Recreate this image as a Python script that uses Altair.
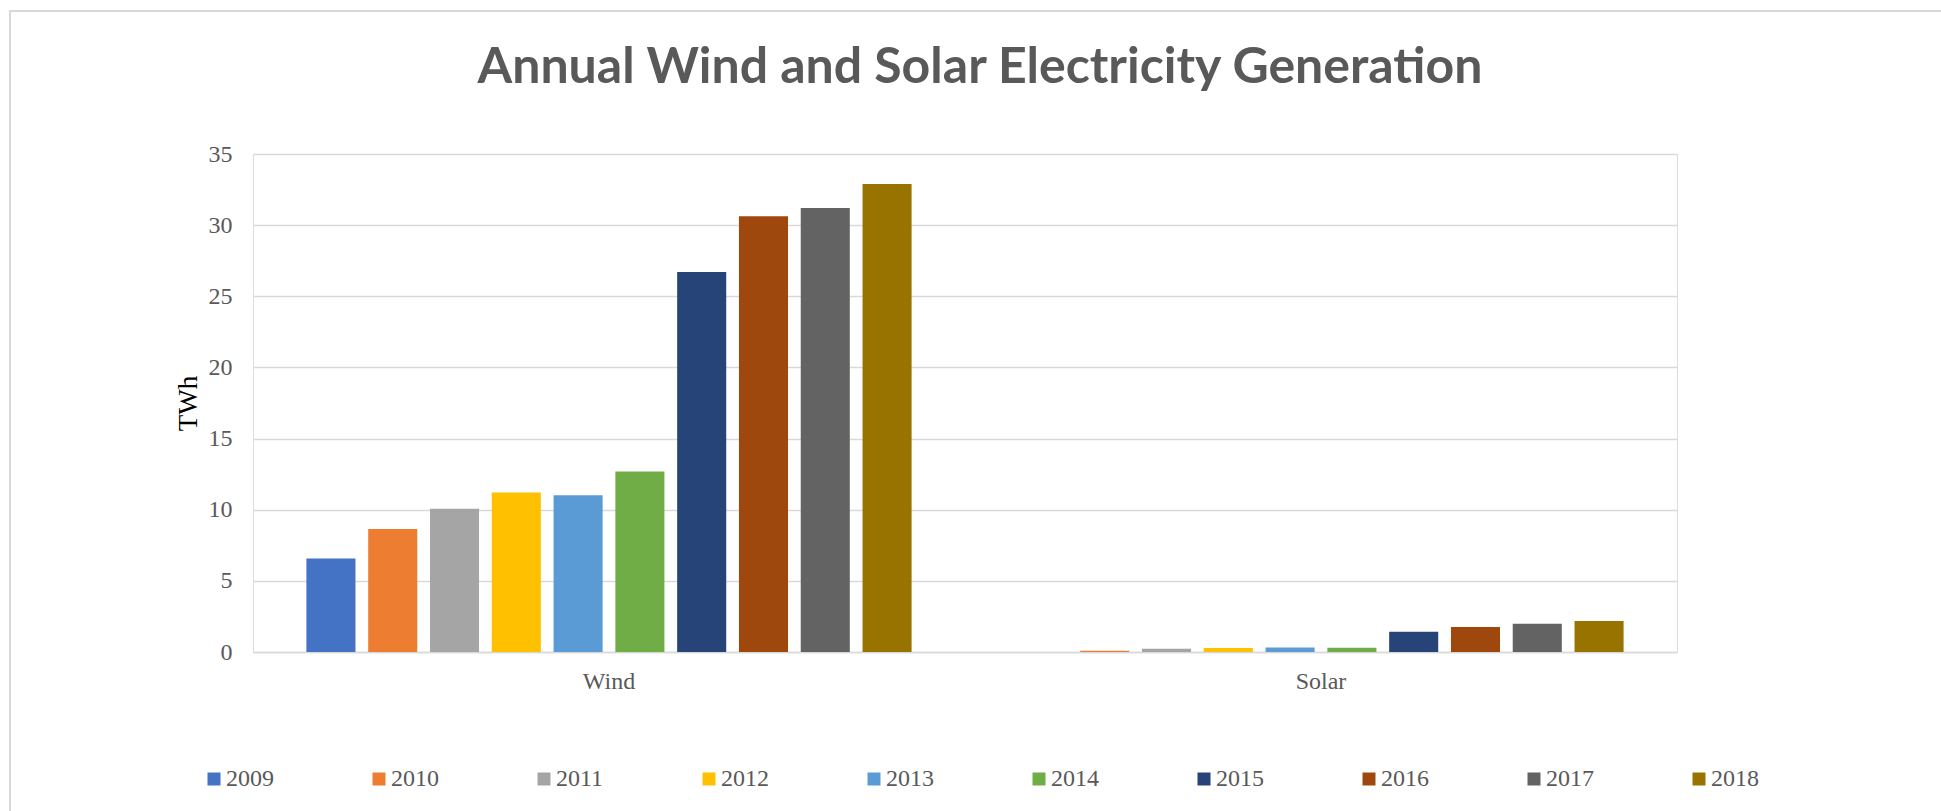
import altair as alt
import pandas as pd

# Annual generation by source, TWh
years = ["2009", "2010", "2011", "2012", "2013", "2014", "2015", "2016", "2017", "2018"]
sources = ["Wind", "Solar"]
wind = [6.57, 8.64, 10.06, 11.21, 11.02, 12.68, 26.71, 30.62, 31.2, 32.89]
solar = [0.0, 0.09, 0.23, 0.28, 0.31, 0.30, 1.42, 1.76, 1.99, 2.18]
palette = ["#4472C4", "#ED7D31", "#A5A5A5", "#FFC000", "#5B9BD5",
           "#70AD47", "#264478", "#9E480E", "#636363", "#997300"]
y_ticks = [0, 5, 10, 15, 20, 25, 30, 35]

rows = []
for src, vals in zip(sources, [wind, solar]):
    for yr, v in zip(years, vals):
        rows.append({"Source": src, "Year": yr, "TWh": v})
df = pd.DataFrame(rows)

W, H = 1424, 498
PAD = {"left": 253, "top": 154, "right": 264, "bottom": 159}
LABEL_FONT = "Liberation Serif"
GREY = "#595959"
GRID = "#d9d9d9"

bars = alt.Chart(df).mark_bar().encode(
    x=alt.X("Source:N", sort=sources,
            scale=alt.Scale(paddingInner=0.15, paddingOuter=0.075),
            axis=alt.Axis(title=None, labelAngle=0, ticks=False,
                          domainColor=GRID, domainWidth=1.5,
                          labelFont=LABEL_FONT, labelFontSize=24,
                          labelColor=GREY, labelPadding=17)),
    xOffset=alt.XOffset("Year:N", sort=years,
                        scale=alt.Scale(paddingInner=0.206, paddingOuter=0)),
    y=alt.Y("TWh:Q",
            scale=alt.Scale(domain=[0, 35], nice=False),
            axis=alt.Axis(title="TWh", values=y_ticks, domain=False, ticks=False,
                          grid=True, gridColor=GRID, gridWidth=1.5,
                          labelFont=LABEL_FONT, labelFontSize=24,
                          labelColor=GREY, labelPadding=21,
                          titleFont=LABEL_FONT, titleFontSize=27,
                          titleFontWeight="normal", titleColor="black",
                          titleAngle=-90, titleBaseline="alphabetic",
                          titleAlign="center", titleX=-57, titleY=H / 2)),
    color=alt.Color("Year:N", sort=years,
                    scale=alt.Scale(domain=years, range=palette),
                    legend=alt.Legend(orient="none", legendX=-51, legendY=613,
                                      direction="horizontal", columns=10,
                                      title=None, symbolType="square",
                                      symbolSize=169, symbolStrokeWidth=0,
                                      labelFont=LABEL_FONT, labelFontSize=24,
                                      labelColor=GREY, labelOffset=0,
                                      columnPadding=93)),
)

# light frame around the chart area
frame = alt.Chart(pd.DataFrame({"k": [0]})).mark_rect(
    filled=False, stroke=GRID, strokeWidth=2
).encode(
    x=alt.value(-243), x2=alt.value(1800),
    y=alt.value(-143), y2=alt.value(800),
)

chart = alt.layer(frame, bars).properties(
    width=W, height=H,
    padding=PAD,
    autosize=alt.AutoSizeParams(type="none"),
    title=alt.TitleParams("Annual Wind and Solar Electricity Generation",
                          font="Lato", fontSize=50, fontWeight="bold",
                          color=GREY, anchor="middle", frame="group",
                          baseline="alphabetic", offset=0, dx=15, dy=123),
).configure_view(stroke=None).configure(background="white").configure_legend(
    labelFont=LABEL_FONT, labelFontSize=24, labelColor=GREY
)

chart.save("out.html", embed_options={"renderer": "svg", "actions": False})
